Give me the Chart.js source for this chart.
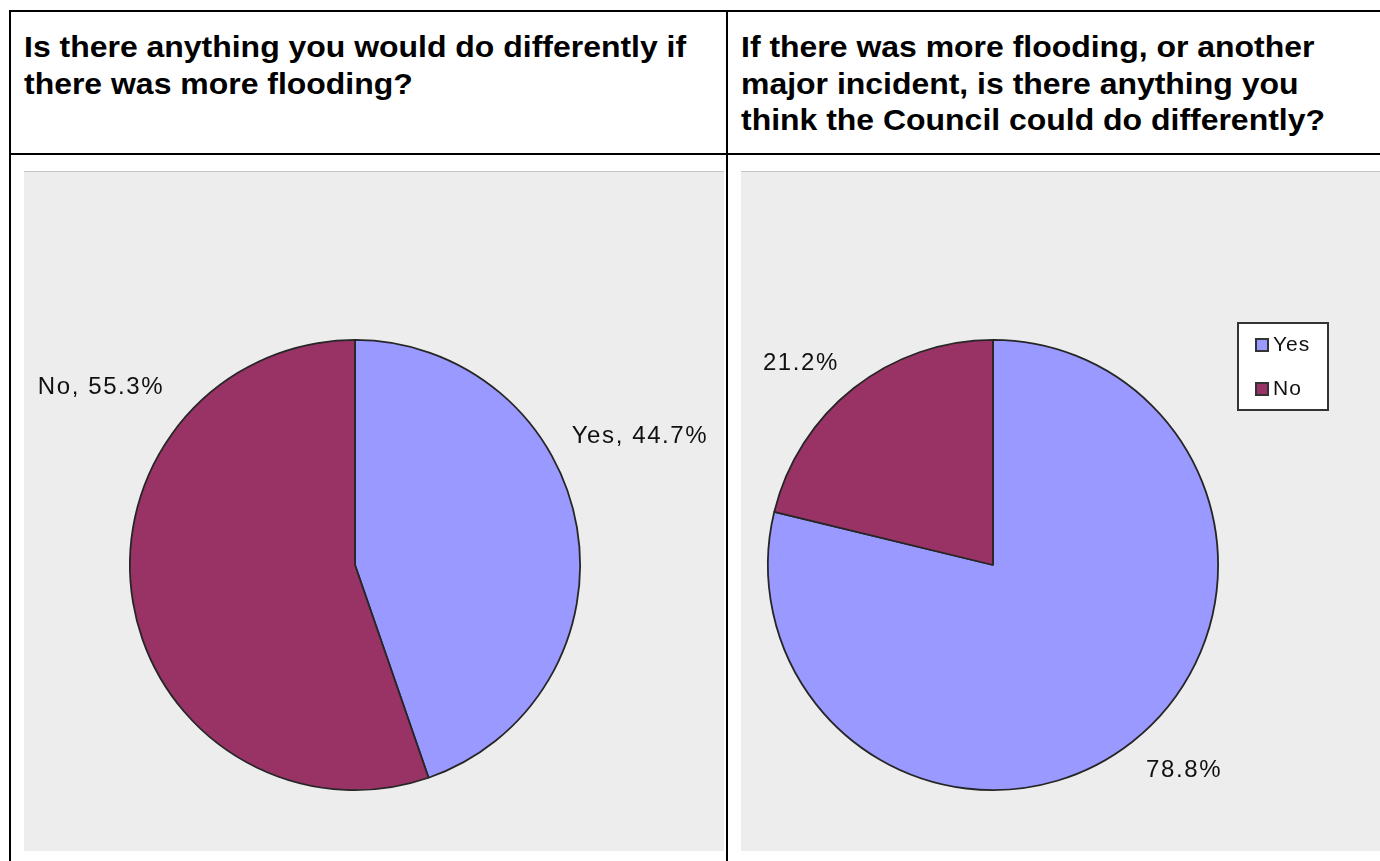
<!DOCTYPE html>
<html>
<head>
<meta charset="utf-8">
<script src="https://cdn.jsdelivr.net/npm/chart.js@4/dist/chart.umd.min.js"></script>
<style>
  html, body { margin: 0; padding: 0; background: #fff; }
  body { width: 1380px; height: 861px; position: relative; overflow: hidden;
         font-family: "Liberation Sans", Arial, sans-serif; }
  .rule { position: absolute; background: #000; }
  .head { position: absolute; top: 29px; font-weight: bold; font-size: 30px;
          line-height: 36.5px; color: #000; white-space: nowrap;
          transform: scaleX(1.065); transform-origin: 0 0; }
  .panel { position: absolute; top: 171px; height: 680px; background: #ededed;
           border-top: 1px solid #c4c4c4; box-sizing: border-box; }
  .panel canvas { position: absolute; left: 0; top: -1px; }
</style>
</head>
<body>
<div class="rule" style="left:9px; top:10px; width:1371px; height:2px;"></div>
<div class="rule" style="left:9px; top:153px; width:1371px; height:2px;"></div>
<div class="rule" style="left:9px; top:10px; width:2px; height:851px;"></div>
<div class="rule" style="left:726px; top:10px; width:2px; height:851px;"></div>

<div class="head" style="left:24px;">Is there anything you would do differently if<br>there was more flooding?</div>
<div class="head" style="left:741px;">If there was more flooding, or another<br>major incident, is there anything you<br>think the Council could do differently?</div>

<div class="panel" style="left:24px; width:700px;"><canvas id="pieSelf" width="700" height="680"></canvas></div>
<div class="panel" style="left:741px; width:639px;"><canvas id="pieCouncil" width="639" height="680"></canvas></div>

<script>
const answers = ['Yes', 'No'];
const selfShares = [44.7, 55.3];
const councilShares = [78.8, 21.2];
const sliceColours = ['#9999ff', '#993366'];

// label text sits off the slice's outer edge; shifts are in pixels
const selfLabelShift = [[63, -91], [-32, -215]];
const councilLabelShift = [[52, 28], [-53, -25]];

const sliceLabels = {
    id: 'sliceLabels',
    afterDatasetsDraw(chart, args, opts) {
        const ctx = chart.ctx;
        const meta = chart.getDatasetMeta(0);
        const values = chart.data.datasets[0].data;
        ctx.save();
        ctx.font = '24px "Liberation Sans", Arial, sans-serif';
        ctx.letterSpacing = '1.6px';
        ctx.fillStyle = '#111';
        ctx.textAlign = 'center';
        ctx.textBaseline = 'middle';
        meta.data.forEach((arc, i) => {
            const p = arc.getProps(['x', 'y', 'startAngle', 'endAngle', 'outerRadius'], true);
            const mid = (p.startAngle + p.endAngle) / 2;
            const x = p.x + Math.cos(mid) * p.outerRadius + opts.shift[i][0];
            const y = p.y + Math.sin(mid) * p.outerRadius + opts.shift[i][1];
            const pct = values[i].toFixed(1) + '%';
            ctx.fillText(opts.withName ? chart.data.labels[i] + ', ' + pct : pct, x, y);
        });
        ctx.restore();
    }
};

const boxLegend = {
    id: 'boxLegend',
    afterDraw(chart, args, opts) {
        if (!opts.show) return;
        const ctx = chart.ctx;
        const bx = opts.x, by = opts.y, bw = 90, bh = 87;
        ctx.save();
        ctx.fillStyle = '#fff';
        ctx.fillRect(bx, by, bw, bh);
        ctx.strokeStyle = '#333';
        ctx.lineWidth = 2;
        ctx.strokeRect(bx, by, bw, bh);
        ctx.font = '21px "Liberation Sans", Arial, sans-serif';
        ctx.letterSpacing = '1px';
        ctx.textBaseline = 'middle';
        chart.data.labels.forEach((lab, i) => {
            const cy = by + 22 + i * 44;
            ctx.fillStyle = chart.data.datasets[0].backgroundColor[i];
            ctx.fillRect(bx + 18, cy - 6, 12, 12);
            ctx.strokeStyle = '#333';
            ctx.lineWidth = 2;
            ctx.strokeRect(bx + 18, cy - 6, 12, 12);
            ctx.fillStyle = '#111';
            ctx.fillText(lab, bx + 35, cy);
        });
        ctx.restore();
    }
};

function buildPie(canvasId, values, padding, labelOpts, legendOpts) {
    const config = {
        type: 'pie',
        data: {
            labels: answers,
            datasets: [{
                data: values,
                backgroundColor: sliceColours,
                borderColor: '#262626',
                borderWidth: 1.8
            }]
        },
        options: {
            responsive: false,
            animation: false,
            layout: { padding: padding },
            plugins: {
                legend: { display: false },
                tooltip: { enabled: false },
                sliceLabels: labelOpts,
                boxLegend: legendOpts
            }
        },
        plugins: [sliceLabels, boxLegend]
    };
    return new Chart(document.getElementById(canvasId).getContext('2d'), config);
}

buildPie('pieSelf', selfShares,
    { left: 105, right: 143, top: 168, bottom: 60 },
    { shift: selfLabelShift, withName: true },
    { show: false });

buildPie('pieCouncil', councilShares,
    { left: 26, right: 161, top: 168, bottom: 60 },
    { shift: councilLabelShift, withName: false },
    { show: true, x: 497, y: 152 });
</script>
</body>
</html>
